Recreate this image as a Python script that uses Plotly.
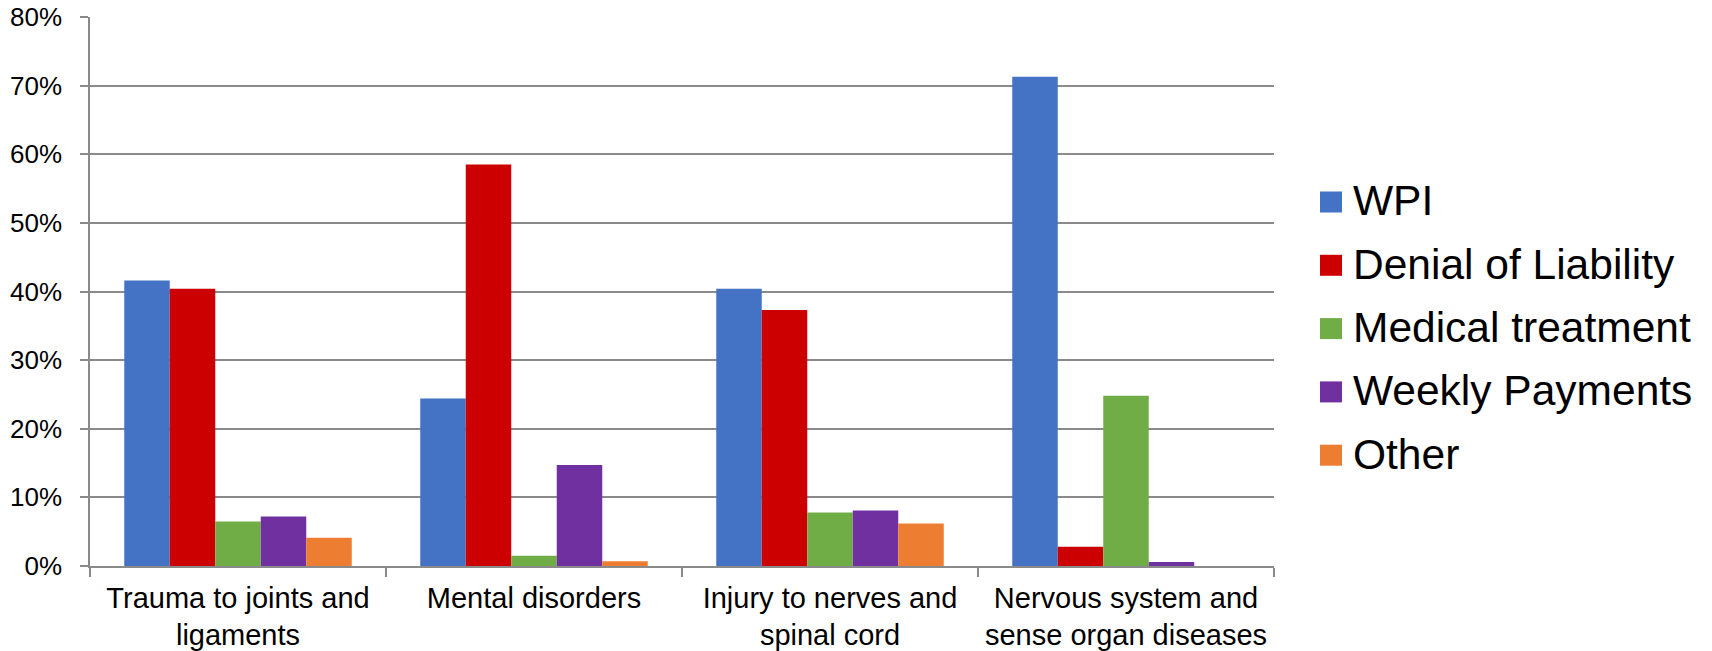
import plotly.graph_objects as go

# Claim outcome shares by injury category
categories = [
    "Trauma to joints and<br>ligaments",
    "Mental disorders",
    "Injury to nerves and<br>spinal cord",
    "Nervous system and<br>sense organ diseases",
]
series_names = ["WPI", "Denial of Liability", "Medical treatment", "Weekly Payments", "Other"]
wpi = [0.416, 0.244, 0.404, 0.713]
denial_of_liability = [0.404, 0.585, 0.373, 0.028]
medical_treatment = [0.065, 0.015, 0.078, 0.248]
weekly_payments = [0.072, 0.147, 0.081, 0.006]
other = [0.041, 0.007, 0.062, 0.0]
y_ticks = [0, 0.1, 0.2, 0.3, 0.4, 0.5, 0.6, 0.7, 0.8]

series_values = [wpi, denial_of_liability, medical_treatment, weekly_payments, other]
colors = ["#4472C4", "#CC0000", "#70AD47", "#7030A0", "#ED7D31"]

W, H = 1712, 651
ML, MR, MT, MB = 90, 438, 17, 85
plot_w = W - ML - MR
plot_h = H - MT - MB
FONT = "Liberation Sans, Arial, sans-serif"
GRID = "#8a8a8a"

fig = go.Figure()
for name, vals, col in zip(series_names, series_values, colors):
    fig.add_trace(go.Bar(
        name=name, x=categories, y=vals,
        marker=dict(color=col, line=dict(width=0)),
        showlegend=False,
    ))

# Legend drawn as colour swatches with labels to the right of the plot
def px_x(px):
    return (px - ML) / plot_w

def px_y(py):
    return (H - MB - py) / plot_h

shapes = []
annotations = []
for i, (name, col) in enumerate(zip(series_names, colors)):
    cy = 202 + i * 63.3
    shapes.append(dict(
        type="rect", xref="paper", yref="paper",
        x0=px_x(1320), x1=px_x(1342), y0=px_y(cy + 10.5), y1=px_y(cy - 10.5),
        fillcolor=col, line=dict(width=0),
    ))
    annotations.append(dict(
        xref="paper", yref="paper", x=px_x(1351), y=px_y(cy - 1),
        xanchor="left", yanchor="middle", text=name, showarrow=False,
        font=dict(family=FONT, size=42.5, color="#000000"),
    ))

fig.update_layout(
    width=W, height=H,
    margin=dict(l=ML, r=MR, t=MT, b=MB, pad=0),
    paper_bgcolor="white", plot_bgcolor="white",
    barmode="group", bargap=0.2314, bargroupgap=0,
    font=dict(family=FONT, color="#000000"),
    shapes=shapes, annotations=annotations,
    showlegend=False,
)
fig.update_xaxes(
    type="category", tickson="boundaries", automargin=False,
    ticks="outside", ticklen=9, tickcolor=GRID, tickwidth=1.5,
    showline=True, linecolor=GRID, linewidth=1.5,
    showgrid=False, tickfont=dict(family=FONT, size=29, color="#000000"),
    range=[-0.5, 3.5], ticklabelstandoff=5,
)
fig.update_yaxes(
    range=[0, 0.8], tickvals=y_ticks, tickformat=".0%", automargin=False,
    ticks="outside", ticklen=8, tickcolor=GRID, tickwidth=1.5,
    showline=True, linecolor=GRID, linewidth=1.5,
    showgrid=True, gridcolor=GRID, gridwidth=1.5,
    zeroline=False, ticklabelstandoff=13,
    tickfont=dict(family=FONT, size=26, color="#000000"),
)

fig.write_html("out.html")
